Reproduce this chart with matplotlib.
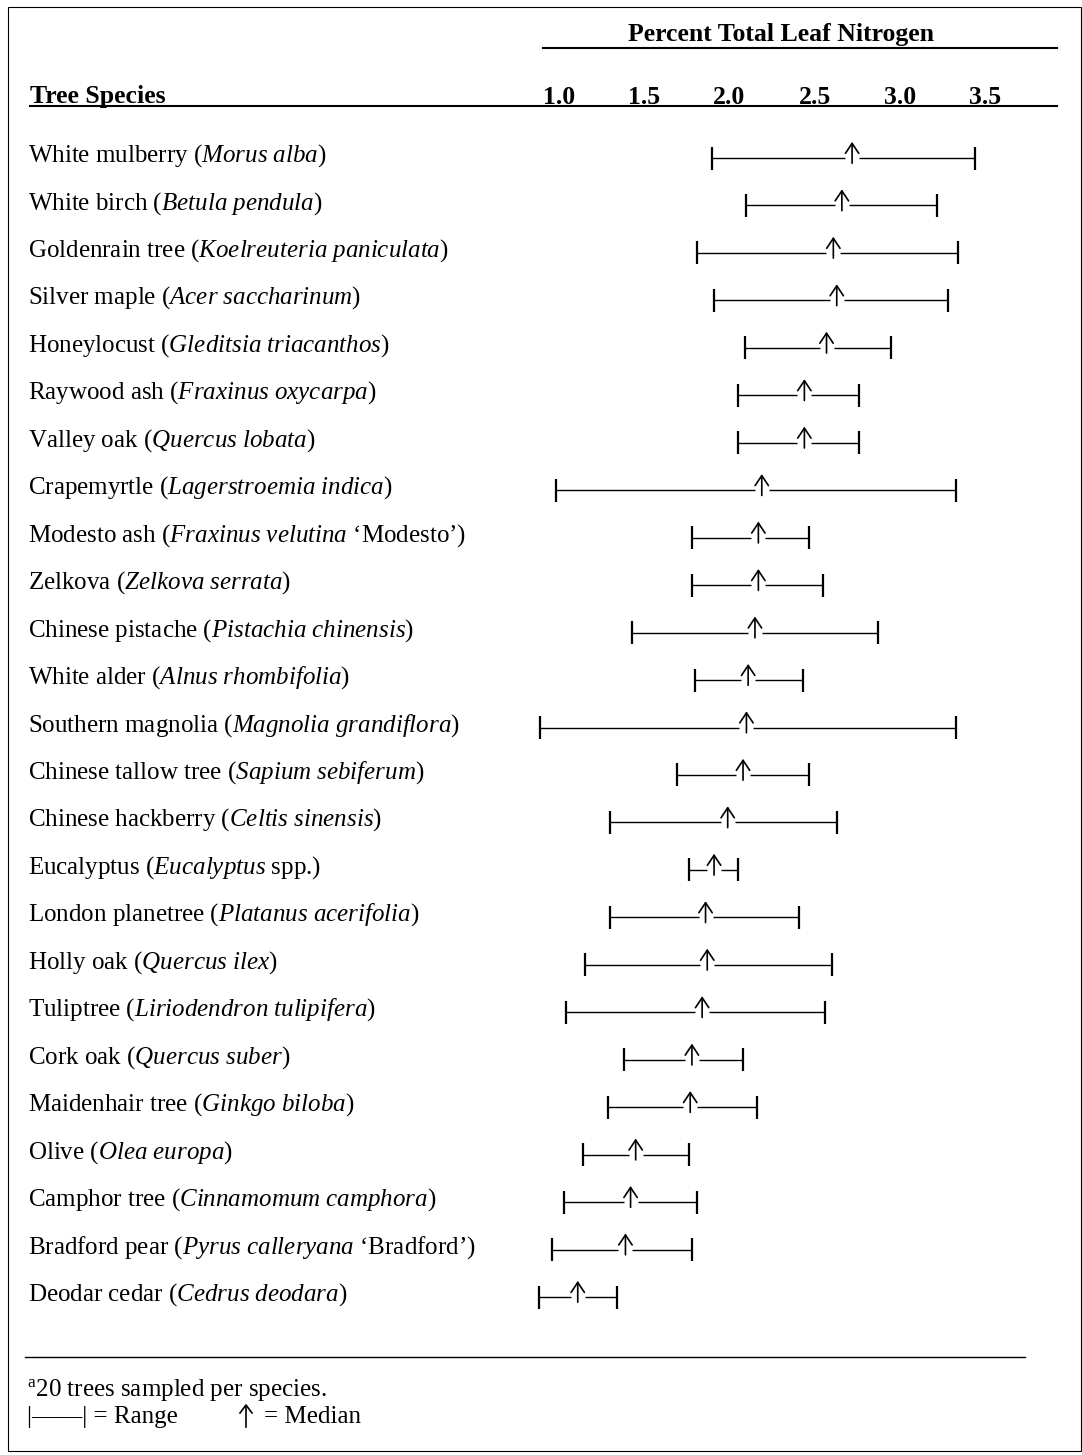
import matplotlib
matplotlib.use("Agg")
import matplotlib.pyplot as plt
import matplotlib.transforms as mtransforms

# 字体：Times 风格
plt.rcParams['font.family'] = ['Liberation Serif', 'DejaVu Serif']
plt.rcParams['mathtext.fontset'] = 'custom'
plt.rcParams['mathtext.rm'] = 'Liberation Serif'
plt.rcParams['mathtext.it'] = 'Liberation Serif:italic'
plt.rcParams['mathtext.bf'] = 'Liberation Serif:bold'

# 数据
common_names = [
    "White mulberry", "White birch", "Goldenrain tree", "Silver maple",
    "Honeylocust", "Raywood ash", "Valley oak", "Crapemyrtle",
    "Modesto ash", "Zelkova", "Chinese pistache", "White alder",
    "Southern magnolia", "Chinese tallow tree", "Chinese hackberry",
    "Eucalyptus", "London planetree", "Holly oak", "Tuliptree",
    "Cork oak", "Maidenhair tree", "Olive", "Camphor tree",
    "Bradford pear", "Deodar cedar",
]
latin_names = [
    "Morus alba", "Betula pendula", "Koelreuteria paniculata",
    "Acer saccharinum", "Gleditsia triacanthos", "Fraxinus oxycarpa",
    "Quercus lobata", "Lagerstroemia indica", "Fraxinus velutina",
    "Zelkova serrata", "Pistachia chinensis", "Alnus rhombifolia",
    "Magnolia grandiflora", "Sapium sebiferum", "Celtis sinensis",
    "Eucalyptus", "Platanus acerifolia", "Quercus ilex",
    "Liriodendron tulipifera", "Quercus suber", "Ginkgo biloba",
    "Olea europa", "Cinnamomum camphora", "Pyrus calleryana",
    "Cedrus deodara",
]
name_suffix = {8: " \u2018Modesto\u2019", 15: " spp.", 23: " \u2018Bradford\u2019"}

n_low = [1.90, 2.10, 1.81, 1.91, 2.09, 2.05, 2.05, 0.98, 1.78, 1.78,
         1.43, 1.80, 0.89, 1.69, 1.30, 1.76, 1.30, 1.15, 1.04, 1.38,
         1.29, 1.14, 1.03, 0.96, 0.88]
n_median = [2.72, 2.66, 2.61, 2.63, 2.57, 2.44, 2.44, 2.19, 2.17, 2.17,
            2.15, 2.11, 2.10, 2.08, 1.99, 1.91, 1.86, 1.87, 1.84, 1.78,
            1.77, 1.45, 1.42, 1.39, 1.11]
n_high = [3.44, 3.22, 3.34, 3.28, 2.95, 2.76, 2.76, 3.33, 2.47, 2.55,
          2.87, 2.43, 3.33, 2.47, 2.63, 2.05, 2.41, 2.60, 2.56, 2.08,
          2.16, 1.76, 1.81, 1.78, 1.34]
tick_values = [1.0, 1.5, 2.0, 2.5, 3.0, 3.5]

W, H = 1082, 1455
fig = plt.figure(figsize=(W / 100, H / 100), dpi=100)
fig.patch.set_facecolor('white')

# 坐标轴覆盖整张图，x 为氮含量，y 为行号
ax = fig.add_axes([0, 0, 1, 1])
ax.axis('off')
px_per_unit = 170.4
x0_px = 559.0
ax.set_xlim(1.0 - x0_px / px_per_unit, 1.0 + (W - x0_px) / px_per_unit)
row_px0, row_step = 158.0, 47.46
ax.set_ylim((H - row_px0) / row_step, -row_px0 / row_step)

def fx(x):
    return x / W

def fy(y):
    return 1 - y / H

FS = 18
FSB = 18.5
gap = 7.0 / px_per_unit
cap = 11.5 / row_step
arrow_props = dict(arrowstyle='->,head_length=0.45,head_width=0.3',
                   color='black', lw=1.2, shrinkA=0, shrinkB=0,
                   mutation_scale=16)

# 行：名称 + 范围 + 中位数
trans = mtransforms.blended_transform_factory(ax.transAxes, ax.transData)
for i, (cn, ln) in enumerate(zip(common_names, latin_names)):
    latin = ln.replace(" ", r"\ ")
    label = cn + r" ($\mathit{" + latin + "}$" + name_suffix.get(i, "") + ")"
    ax.text(fx(28), i - 0.05, label, transform=trans, fontsize=FS,
            ha='left', va='center')

    lo, md, hi = n_low[i], n_median[i], n_high[i]
    ax.hlines(i, lo, md - gap, color='black', lw=1.0)
    ax.hlines(i, md + gap, hi, color='black', lw=1.0)
    ax.vlines([lo, hi], i - cap, i + cap, color='black', lw=1.6)
    # 中位数箭头
    ax.annotate("", xy=(md, i - 0.34), xytext=(md, i + 0.11),
                arrowprops=arrow_props)

# 表头
fig.text(fx(781), fy(35), "Percent Total Leaf Nitrogen", fontsize=FSB,
         fontweight='bold', ha='center', va='center')
fig.add_artist(plt.Line2D([fx(543), fx(1057)], [fy(48), fy(48)],
                          color='black', lw=1.5))
fig.text(fx(30), fy(97), "Tree Species", fontsize=FSB, fontweight='bold',
         ha='left', va='center')
for v in tick_values:
    ax.text(v, (97 - row_px0) / row_step, f"{v:.1f}", fontsize=FSB,
            fontweight='bold', ha='center', va='center')
fig.add_artist(plt.Line2D([fx(30), fx(1057)], [fy(106), fy(106)],
                          color='black', lw=1.5))

# 底部分隔线和脚注
fig.add_artist(plt.Line2D([fx(25), fx(1025)], [fy(1357), fy(1357)],
                          color='black', lw=1.0))
fig.text(fx(27), fy(1390), r"$^{\mathrm{a}}$20 trees sampled per species.",
         fontsize=FS, ha='left', va='center')
fig.text(fx(27), fy(1417), "|\u2014\u2014| = Range", fontsize=FS,
         ha='left', va='center')
fig.add_artist(plt.Line2D([fx(246), fx(246)], [fy(1427), fy(1406)],
                          color='black', lw=1.2))
fig.add_artist(plt.Line2D([fx(240), fx(246), fx(252)],
                          [fy(1413), fy(1405), fy(1413)],
                          color='black', lw=1.2))
fig.text(fx(264), fy(1417), "= Median", fontsize=FS,
         ha='left', va='center')

# 页面边框
fig.add_artist(plt.Rectangle((fx(8), fy(1451)), fx(1073), 1444 / H,
                             fill=False, edgecolor='black', lw=0.8))

fig.savefig("out.png", dpi=100, facecolor='white')
